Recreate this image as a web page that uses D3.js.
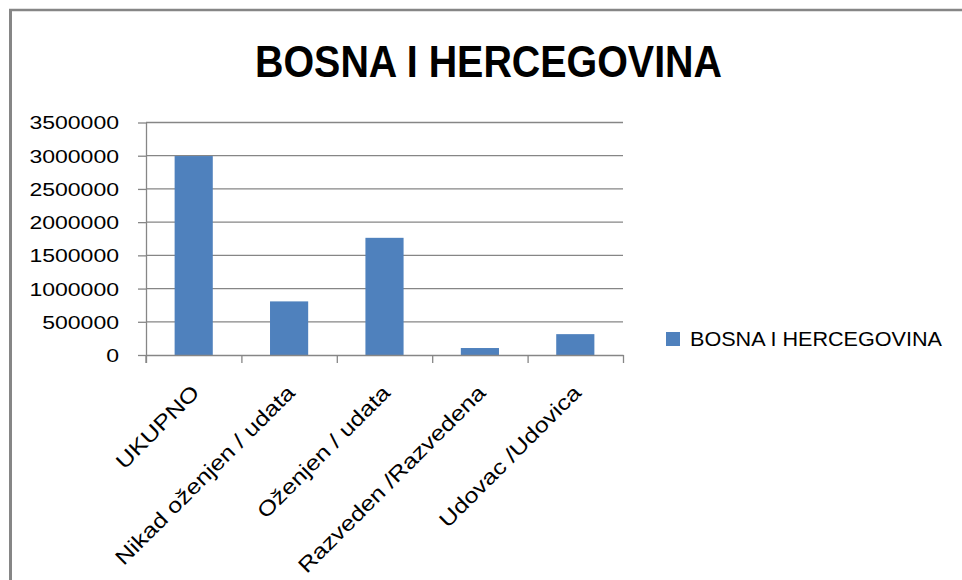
<!DOCTYPE html>
<html>
<head>
<meta charset="utf-8">
<script src="https://cdn.jsdelivr.net/npm/d3@7"></script>
<style>
  body { margin: 0; background: #fff; }
  svg { display: block; font-family: "Liberation Sans", Arial, sans-serif; }
</style>
</head>
<body>
<div id="chart"></div>
<script>
// chart data
var categories = ["UKUPNO", "Nikad oženjen / udata", "Oženjen / udata", "Razveden /Razvedena", "Udovac /Udovica"];
var values = [2995000, 807000, 1764000, 105000, 314000];
var yTicks = [0, 500000, 1000000, 1500000, 2000000, 2500000, 3000000, 3500000];
var title = "BOSNA I HERCEGOVINA";
var seriesName = "BOSNA I HERCEGOVINA";

var W = 962, H = 580;
var plotLeft = 146, plotRight = 623, plotTop = 122.5, plotBottom = 355;
var barColor = "#4F81BD", lineColor = "#868686";

var svg = d3.select("#chart").append("svg")
    .attr("width", W)
    .attr("height", H);

// frame (only top and left edges fall inside the picture)
svg.append("line")
    .attr("x1", 9).attr("y1", 10).attr("x2", W).attr("y2", 10)
    .attr("stroke", lineColor).attr("stroke-width", 2.5);
svg.append("line")
    .attr("x1", 10.5).attr("y1", 9).attr("x2", 10.5).attr("y2", H)
    .attr("stroke", lineColor).attr("stroke-width", 3);

// title
svg.append("text")
    .attr("x", 255).attr("y", 77)
    .attr("textLength", 467)
    .attr("lengthAdjust", "spacingAndGlyphs")
    .attr("font-size", 44)
    .attr("font-weight", "bold")
    .text(title);

var x = d3.scaleBand()
    .domain(categories)
    .range([plotLeft, plotRight])
    .paddingInner(0.6)
    .paddingOuter(0.3);

var y = d3.scaleLinear()
    .domain([0, 3500000])
    .range([plotBottom, plotTop]);

// gridlines
svg.selectAll(".grid").data(yTicks.slice(1))
  .enter().append("line")
    .attr("class", "grid")
    .attr("x1", plotLeft).attr("x2", plotRight)
    .attr("y1", function(d){ return y(d); })
    .attr("y2", function(d){ return y(d); })
    .attr("stroke", lineColor)
    .attr("stroke-width", 1.3);

// bars
svg.selectAll(".bar").data(values)
  .enter().append("rect")
    .attr("class", "bar")
    .attr("x", function(d, i){ return x(categories[i]); })
    .attr("width", x.bandwidth())
    .attr("y", function(d){ return y(d); })
    .attr("height", function(d){ return plotBottom - y(d); })
    .attr("fill", barColor);

// y axis
var yAxis = svg.append("g")
    .attr("transform", "translate(" + plotLeft + ",0)")
    .call(d3.axisLeft(y).tickValues(yTicks).tickSize(8).tickSizeOuter(0).tickFormat(d3.format("d")));
yAxis.select(".domain").attr("stroke", lineColor).attr("stroke-width", 1.3);
yAxis.selectAll(".tick line").attr("stroke", lineColor).attr("stroke-width", 1.3);
yAxis.selectAll(".tick text")
    .attr("x", 0).attr("dy", "0.36em")
    .attr("transform", "translate(-27,0) scale(1.28,1)")
    .attr("font-size", 18)
    .attr("font-family", "Liberation Sans, Arial, sans-serif")
    .attr("fill", "#000");
// extend the axis line down to the tick length
yAxis.append("line")
    .attr("x1", 0).attr("x2", 0).attr("y1", plotBottom).attr("y2", plotBottom + 8)
    .attr("stroke", lineColor).attr("stroke-width", 1.3);

// x axis: boundary ticks
var xb = d3.scaleLinear().domain([0, categories.length]).range([plotLeft, plotRight]);
var xTickAxis = svg.append("g")
    .attr("transform", "translate(0," + plotBottom + ")")
    .call(d3.axisBottom(xb).ticks(categories.length).tickSize(8).tickSizeOuter(0).tickFormat(""));
xTickAxis.select(".domain").attr("stroke", lineColor).attr("stroke-width", 1.3);
xTickAxis.selectAll(".tick line").attr("stroke", lineColor).attr("stroke-width", 1.3);

// x axis: category labels
var xAxis = svg.append("g")
    .attr("transform", "translate(0," + plotBottom + ")")
    .call(d3.axisBottom(x).tickSize(0));
xAxis.select(".domain").remove();
xAxis.selectAll(".tick text")
    .attr("x", 0).attr("y", 0).attr("dy", 0)
    .attr("text-anchor", "end")
    .attr("transform", "translate(7,39) rotate(-45) scale(1.2,1)")
    .attr("font-size", 21)
    .attr("font-family", "Liberation Sans, Arial, sans-serif")
    .attr("fill", "#000");

// legend
var legend = svg.append("g").attr("transform", "translate(666,332)");
legend.append("rect")
    .attr("width", 14).attr("height", 14)
    .attr("fill", barColor);
legend.append("text")
    .attr("x", 24).attr("y", 14)
    .attr("textLength", 252)
    .attr("lengthAdjust", "spacingAndGlyphs")
    .attr("font-size", 21)
    .text(seriesName);
</script>
</body>
</html>
